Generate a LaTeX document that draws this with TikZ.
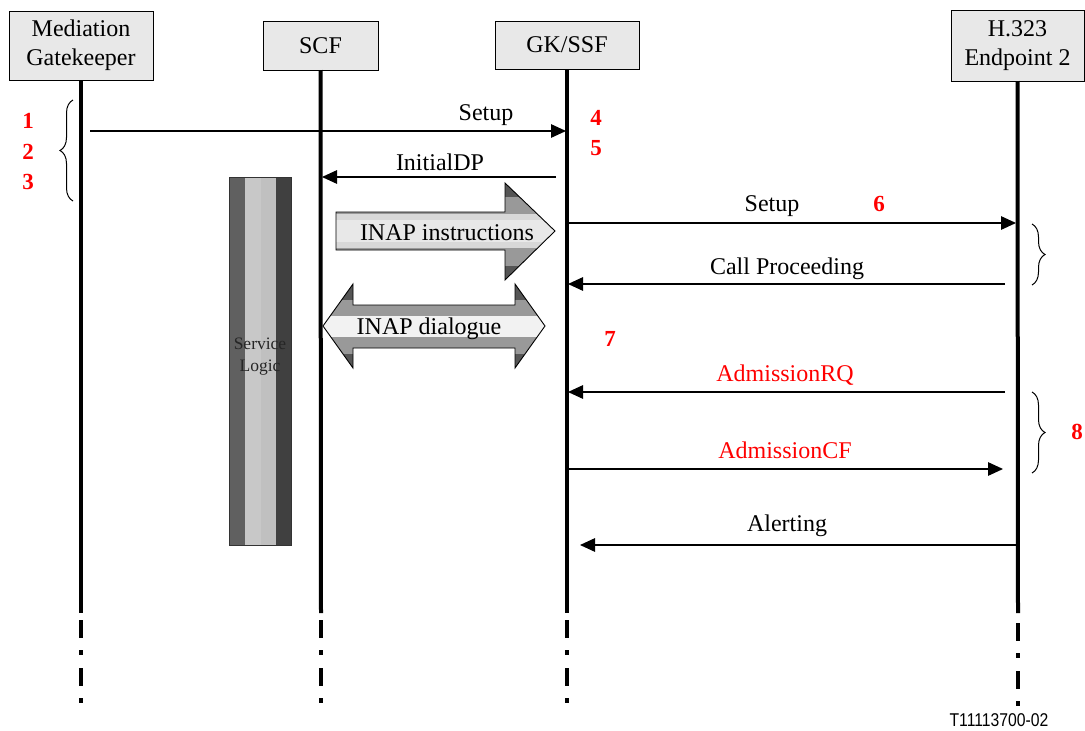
\documentclass[tikz,border=0pt]{standalone}
\usepackage{graphicx}
\usepackage{fontspec}
\setmainfont{Liberation Serif}
\newfontfamily\footfont{Liberation Sans}
\usetikzlibrary{arrows.meta,decorations.pathreplacing}
\definecolor{hdrgray}{HTML}{E8E8E8}
\definecolor{dk}{HTML}{555555}
\definecolor{md}{HTML}{999999}
\definecolor{lt}{HTML}{D8D8D8}
\definecolor{lt2}{HTML}{F2F2F2}
\definecolor{slA}{HTML}{606060}
\definecolor{slB}{HTML}{C8C8C8}
\definecolor{slC}{HTML}{C0C0C0}
\definecolor{slD}{HTML}{404040}
\definecolor{txtred}{HTML}{FF0000}
\begin{document}
\begin{tikzpicture}[x=1pt,y=-1pt,
  every node/.style={inner sep=0pt, outer sep=0pt},
  hdr/.style={draw=black, line width=1pt, fill=hdrgray, align=center,
    font=\fontsize{24}{29}\selectfont},
  life/.style={line width=4pt},
  lifedash/.style={line width=4pt, dash pattern=on 18pt off 12pt on 5pt off 13pt},
  msg/.style={line width=1.3pt, -{Triangle[length=15pt,width=13.5pt]}},
  lbl/.style={font=\fontsize{24}{29}\selectfont},
  rlbl/.style={font=\fontsize{24}{29}\selectfont, text=txtred},
  num/.style={font=\bfseries\fontsize{23}{28}\selectfont, text=txtred},
  brc/.style={decorate, decoration={brace, amplitude=13pt}, line width=1pt},
  bigarrow/.style={draw=black, line width=0.9pt}]
\useasboundingbox (0,0) rectangle (1085,731);

% header boxes
\node[hdr, minimum width=144pt, minimum height=69pt] (mg) at (81,45.5) {Mediation\\Gatekeeper};
\node[hdr, minimum width=115pt, minimum height=49pt] (scf) at (320.5,45.5) {SCF};
\node[hdr, minimum width=144pt, minimum height=48pt] (gk) at (567,45) {GK/SSF};
\node[hdr, minimum width=133pt, minimum height=71pt] (ep) at (1017.5,45.5) {H.323\\Endpoint 2};

% lifeline ends
\coordinate (mgE) at (81,613);   \coordinate (mgD) at (81,620);   \coordinate (mgF) at (81,704);
\coordinate (scfE) at (321,613); \coordinate (scfD) at (321,620); \coordinate (scfF) at (321,704);
\coordinate (gkE) at (567,613);  \coordinate (gkD) at (567,620);  \coordinate (gkF) at (567,704);
\coordinate (epE) at (1018,613); \coordinate (epD) at (1018,623); \coordinate (epF) at (1018,707);

\draw[life] (mg.south) -- (mgE);
\draw[life] (scf.south) -- (scfE);
\draw[life] (gk.south) -- (gkE);
\draw[life] (ep.south) -- (epE);
\draw[lifedash] (mgD) -- (mgF);
\draw[lifedash] (scfD) -- (scfF);
\draw[lifedash] (gkD) -- (gkF);
\draw[lifedash] (epD) -- (epF);

% service logic bar
\fill[slA] (229,177) rectangle (245,545);
\fill[slB] (245,177) rectangle (261,545);
\fill[slC] (261,177) rectangle (276,545);
\fill[slD] (276,177) rectangle (291,545);
\node[draw=black!80, line width=0.8pt, minimum width=62pt, minimum height=368pt] (sl) at (260,361) {};
\node[align=center, text=black!85, font=\fontsize{17.5}{22}\selectfont] (sltxt) at (260,357) {Service\\Logic};

% INAP instructions arrow
\begin{scope}
\clip (336,212) -- (505,212) -- (505,183) -- (555,231) -- (505,280) -- (505,250) -- (336,250) -- cycle;
\fill[dk] (330,180) rectangle (560,197);
\fill[md] (330,197) rectangle (560,214);
\fill[lt] (330,214) rectangle (560,248);
\fill[lt!60!white] (330,220) rectangle (560,242);
\fill[md] (330,248) rectangle (560,266);
\fill[dk] (330,266) rectangle (560,283);
\end{scope}
\draw[bigarrow] (336,212) -- (505,212) -- (505,183) -- (555,231) -- (505,280) -- (505,250) -- (336,250) -- cycle;
\node[lbl] (inapi) at (447,233) {INAP instructions};

% INAP dialogue double arrow
\begin{scope}
\clip (323,326) -- (353,284) -- (353,305) -- (515,305) -- (515,284) -- (545,326) -- (515,368) -- (515,348) -- (353,348) -- (353,368) -- cycle;
\fill[dk] (320,280) rectangle (550,300);
\fill[md] (320,300) rectangle (550,316);
\fill[lt2] (320,316) rectangle (550,337);
\fill[md] (320,337) rectangle (550,354);
\fill[dk] (320,354) rectangle (550,372);
\end{scope}
\draw[bigarrow] (323,326) -- (353,284) -- (353,305) -- (515,305) -- (515,284) -- (545,326) -- (515,368) -- (515,348) -- (353,348) -- (353,368) -- cycle;
\node[lbl] (inapd) at (429,329) {INAP dialogue};

% messages
\coordinate (m1s) at (90,131);   \coordinate (m1e) at (566,131);
\coordinate (m2s) at (556,177);  \coordinate (m2e) at (322,177);
\coordinate (m3s) at (569,223);  \coordinate (m3e) at (1016,223);
\coordinate (m4s) at (1005,284); \coordinate (m4e) at (568,284);
\coordinate (m5s) at (1005,392); \coordinate (m5e) at (568,392);
\coordinate (m6s) at (569,469);  \coordinate (m6e) at (1003,469);
\coordinate (m7s) at (1016,545); \coordinate (m7e) at (580,545);

\draw[msg] (m1s) -- (m1e);
\draw[msg] (m2s) -- (m2e);
\draw[msg] (m3s) -- (m3e);
\draw[msg] (m4s) -- (m4e);
\draw[msg] (m5s) -- (m5e);
\draw[msg] (m6s) -- (m6e);
\draw[msg] (m7s) -- (m7e);

\node[lbl] (l1) at (486,115) {Setup};
\node[lbl] (l2) at (440,162) {InitialDP};
\node[lbl] (l3) at (772,206) {Setup};
\node[lbl] (l4) at (787,269) {Call Proceeding};
\node[rlbl] (l5) at (785,375) {AdmissionRQ};
\node[rlbl] (l6) at (785,450) {AdmissionCF};
\node[lbl] (l7) at (787,526) {Alerting};

% step numbers
\node[num] (n1) at (28,121) {1};
\node[num] (n2) at (28,152) {2};
\node[num] (n3) at (28,182) {3};
\node[num] (n4) at (596,118) {4};
\node[num] (n5) at (596,148) {5};
\node[num] (n6) at (879,204) {6};
\node[num] (n7) at (610,339) {7};
\node[num] (n8) at (1077,432) {8};

% braces
\coordinate (b1a) at (73,201); \coordinate (b1b) at (73,100);
\coordinate (b2a) at (1032,224); \coordinate (b2b) at (1032,285);
\coordinate (b3a) at (1032,392); \coordinate (b3b) at (1032,473);
\draw[brc] (b1a) -- (b1b);
\draw[brc] (b2a) -- (b2b);
\draw[brc] (b3a) -- (b3b);

% footer
\node[font=\footfont\fontsize{18.5}{21}\selectfont] (foot) at (999,720) {\scalebox{0.85}[1]{T11113700-02}};
\end{tikzpicture}
\end{document}
